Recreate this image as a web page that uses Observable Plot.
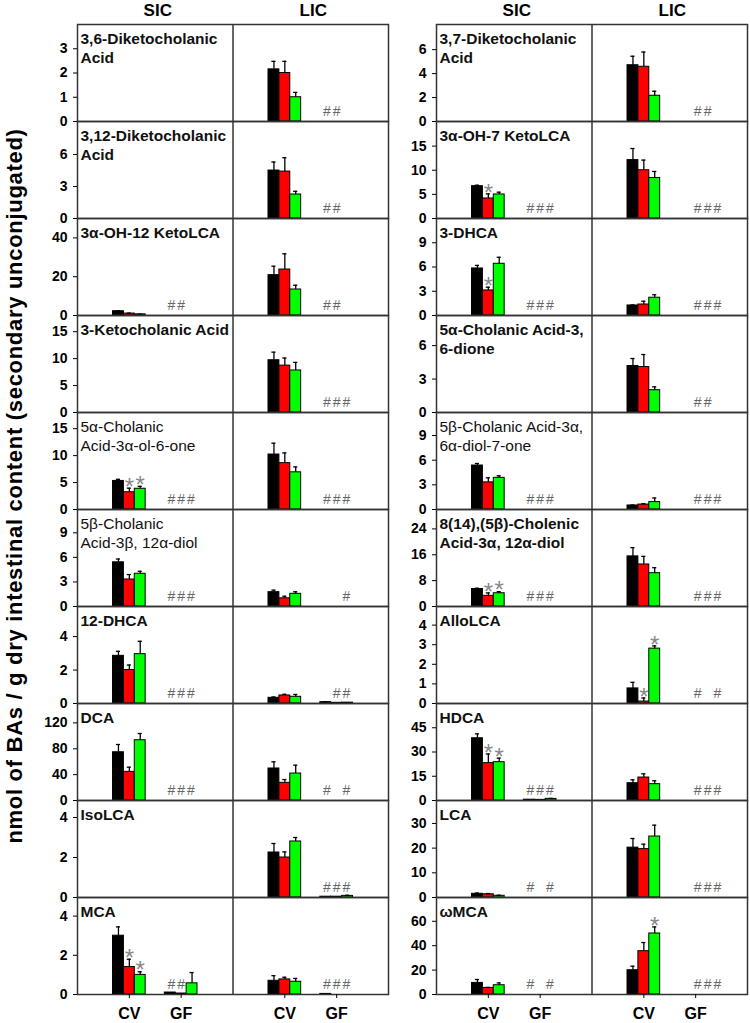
<!DOCTYPE html>
<html><head><meta charset="utf-8">
<script src="https://cdn.jsdelivr.net/npm/d3@7"></script>
<script src="https://cdn.jsdelivr.net/npm/@observablehq/plot@0.6"></script>
<style>
html,body{margin:0;padding:0;background:#fff;}
#chart{position:relative;width:750px;height:1023px;overflow:hidden;font-family:"Liberation Sans",Arial,sans-serif;}
#chart svg{position:absolute;}
</style></head><body><div id="chart"></div>
<script>
// ---------- data ----------
const regions = ["SIC", "LIC"];
const groups = ["CV", "GF"];
const seriesNames = ["series 1", "series 2", "series 3"];
const yTitle = "nmol of BAs / g dry intestinal content (secondary unconjugated)";

const compounds = [
  "3,6-Diketocholanic\nAcid", "3,12-Diketocholanic\nAcid", "3α-OH-12 KetoLCA", "3-Ketocholanic Acid",
  "5α-Cholanic\nAcid-3α-ol-6-one", "5β-Cholanic\nAcid-3β, 12α-diol", "12-DHCA", "DCA", "IsoLCA", "MCA",
  "3,7-Diketocholanic\nAcid", "3α-OH-7 KetoLCA", "3-DHCA", "5α-Cholanic Acid-3,\n6-dione",
  "5β-Cholanic Acid-3α,\n6α-diol-7-one", "8(14),(5β)-Cholenic\nAcid-3α, 12α-diol", "AlloLCA", "HDCA", "LCA", "ωMCA"
];
const yMax = [4, 9.1, 50, 18, 18, 11.85, 5.8, 150, 4.85, 4.95, 8.1, 20.1, 12, 8.7, 11.8, 30, 4.95, 60, 39.3, 79.5];
const yTicks = [
  [0,1,2,3], [0,3,6], [0,20,40], [0,5,10,15], [0,5,10,15], [0,3,6,9], [0,2,4], [0,40,80,120], [0,2,4], [0,2,4],
  [0,2,4,6], [0,5,10,15], [0,3,6,9], [0,3,6], [0,3,6,9], [0,8,16,24], [0,1,2,3,4], [0,15,30,45], [0,10,20,30], [0,20,40,60]
];
// values: [CV s1, CV s2, CV s3, GF s1, GF s2, GF s3]
const sicMean = [
  null, null, [2.2,1.0,0.6,0,0,0], null, [5.3,3.2,3.85,0,0,0], [5.4,3.3,4.0,0,0,0], [2.85,2.0,2.95,0,0,0],
  [74.6,44.3,93.2,0,0,0], null, [3.0,1.4,1.0,0.1,0.05,0.57],
  null, [6.7,4.15,4.98,0,0,0], [5.82,3.1,6.4,0,0,0], null, [5.35,3.3,3.85,0,0,0], [5.4,3.3,4.1,0,0,0], null,
  [38.5,23.1,23.7,0.5,0.4,1.0], [1.5,1.3,0.7,0,0,0], [9.5,5.4,7.6,0,0,0]
];
const sicErr = [
  null, null, [0.2,0.2,0.1,0,0,0], null, [0.3,0.76,0.45,0,0,0], [0.4,0.6,0.3,0,0,0], [0.27,0.3,0.77,0,0,0],
  [12,7.2,10.4,0,0,0], null, [0.45,0.4,0.16,0,0,0.55],
  null, [0.2,0.95,0.47,0,0,0], [0.38,0.4,0.8,0,0,0], null, [0.25,0.55,0.25,0,0,0], [0.25,0.9,0.5,0,0,0], null,
  [2.7,5.7,2.5,0,0,0.3], [0.3,0.3,0.2,0,0,0], [2.8,0.4,1.9,0,0,0]
];
const licMean = [
  [2.15,2.0,1.0,0,0,0], [4.5,4.4,2.25,0,0,0], [20.8,23.7,13.4,0,0,0], [9.7,8.7,7.8,0,0,0], [10.2,8.6,6.9,0,0,0],
  [1.75,1.0,1.55,0,0,0], [0.34,0.48,0.4,0.08,0.04,0.05], [49.5,27.3,41.7,0,0,0], [2.25,2.0,2.8,0.04,0.04,0.08],
  [0.7,0.77,0.65,0.03,0,0],
  [4.7,4.57,2.15,0,0,0], [12.1,10.0,8.4,0,0,0], [1.24,1.36,2.2,0,0,0], [4.17,4.08,2.0,0,0,0], [0.49,0.6,0.9,0,0,0],
  [15.5,13.0,10.3,0,0,0], [0.77,0.1,2.8,0,0,0], [10.7,14.2,10.1,0,0,0], [20.2,19.6,24.7,0,0,0], [19.9,35.5,50,0,0,0]
];
const licErr = [
  [0.33,0.48,0.2,0,0,0], [0.8,1.3,0.3,0,0,0], [4.6,8.1,2.2,0,0,0], [1.5,1.4,1.5,0,0,0], [2.1,1.9,1.0,0,0,0],
  [0.25,0.25,0.25,0,0,0], [0.05,0.07,0.14,0.03,0,0], [10.3,5.1,12.9,0,0,0], [0.45,0.28,0.2,0,0,0.03],
  [0.26,0.11,0.17,0,0,0],
  [0.75,1.23,0.38,0,0,0], [2.4,2.1,1.35,0,0,0], [0.06,0.41,0.37,0,0,0], [0.67,1.12,0.3,0,0,0], [0.05,0.1,0.5,0,0,0],
  [2.7,2.5,1.7,0,0,0], [0.31,0.18,0.14,0,0,0], [2.1,2.3,2.1,0,0,0], [3.7,2.0,4.6,0,0,0], [3.3,7.1,5.4,0,0,0]
];
// significance vs series 1 (*) per bar
const sicStar = ["","","","","011000","","","","","011000","","010000","010000","","","011000","","011000","",""];
const licStar = ["","","","","","","","","","","","","","","","","011000","","","001000"];
// GF vs CV (#) per GF bar
const sicHash = ["","","110","","111","111","111","111","","110","","111","111","","111","111","","111","101","101"];
const licHash = ["110","110","110","111","111","001","011","101","111","111","110","111","111","110","111","111","101","111","111","111"];

// ---------- layout / style ----------
const FONT = '"Liberation Sans", Arial, sans-serif';
const seriesColors = ["#000000", "#ff0000", "#00ff00"];
const L = {top: 24, rowH: 97, colX: [77, 436], w: 311, mL: 52, mR: 6, mT: 10, mB: 10, mBLast: 30, rows: 10};
const bw = 0.21, capHalf = 0.04, hashStep = 0.19;
const lightTitles = new Set([4, 5, 14]);
const lineColor = "#333";
const chart = document.getElementById("chart");

function rowData(i, g) {
  const bars = [], stars = [], hashes = [];
  [[sicMean, sicErr, sicStar, sicHash], [licMean, licErr, licStar, licHash]].forEach(([M, E, S, H], r) => {
    const m = M[i];
    if (m) m.forEach((v, k) => {
      const gi = Math.floor(k / 3), s = k % 3;
      const xc = r * 3 + 1 + gi + (s - 1) * bw;
      const d = {xc, v, e: E[i][k], series: seriesNames[s]};
      bars.push(d);
      if (S[i] && S[i][k] === "1") stars.push(d);
    });
    const shift = (g === 1 && r === 1) ? 0.23 : 0;
    if (H[i]) [...H[i]].forEach((f, s) => {
      if (f === "1") hashes.push({x: r * 3 + 2 + (s - 1) * hashStep + shift});
    });
  });
  return {bars, stars, hashes};
}

for (let g = 0; g < 2; g++) {
  for (let row = 0; row < L.rows; row++) {
    const i = g * L.rows + row;
    const last = row === L.rows - 1;
    const {bars, stars, hashes} = rowData(i, g);
    const mB = last ? L.mBLast : L.mB;
    const marks = [
      Plot.rect(bars.filter(d => d.v > 0), {x1: d => d.xc - bw / 2, x2: d => d.xc + bw / 2, y1: 0, y2: "v", fill: "series", stroke: "#000", strokeWidth: 1}),
      Plot.ruleX(bars.filter(d => d.e > 0), {x: "xc", y1: "v", y2: d => d.v + d.e, stroke: "#000", strokeWidth: 1.3}),
      Plot.ruleY(bars.filter(d => d.e > 0), {y: d => d.v + d.e, x1: d => d.xc - capHalf, x2: d => d.xc + capHalf, stroke: "#000", strokeWidth: 1.3}),
      Plot.text(stars, {x: "xc", y: d => d.v + d.e, text: () => "*", dy: -1, fontSize: 24, fill: "#888", fontFamily: FONT}),
      Plot.text(hashes, {x: "x", y: () => 0, text: () => "#", dy: -10, fontSize: 14, fill: "#666", fontFamily: FONT}),
      Plot.text([compounds[i]], {frameAnchor: "top-left", dx: 3, dy: 7, lineAnchor: "top", lineHeight: 1.17, textAnchor: "start",
        fontSize: 15.5, fontWeight: lightTitles.has(i) ? "normal" : "bold", fill: "#111", fontFamily: FONT}),
      Plot.ruleX([3], {stroke: lineColor, strokeWidth: 1.5}),
      Plot.frame({stroke: lineColor, strokeWidth: 1.5}),
      Plot.axisY({ticks: yTicks[i], tickFormat: d => String(d), tickSize: 4, tickPadding: 6, fontSize: 14, fontWeight: "bold", label: null, fontFamily: FONT})
    ];
    if (last) marks.push(Plot.axisX({ticks: [1, 2, 4, 5], tickFormat: d => groups[(d - 1) % 3], tickSize: 4, tickPadding: 9,
      fontSize: 16, fontWeight: "bold", label: null, fontFamily: FONT}));
    const svg = Plot.plot({
      width: L.mL + L.w + L.mR, height: L.mT + L.rowH + mB,
      marginLeft: L.mL, marginRight: L.mR, marginTop: L.mT, marginBottom: mB,
      x: last ? {domain: [0, 6]} : {domain: [0, 6], axis: null},
      y: {domain: [0, yMax[i]]},
      color: {domain: seriesNames, range: seriesColors},
      style: {background: "transparent", overflow: "visible", fontFamily: FONT, color: "#000"},
      marks
    });
    svg.style.left = (L.colX[g] - L.mL) + "px";
    svg.style.top = (L.top + row * L.rowH - L.mT) + "px";
    chart.appendChild(svg);
  }
}

// headers and shared y title
const ov = d3.select(chart).append("svg").attr("width", 750).attr("height", 1023)
  .style("left", "0px").style("top", "0px").style("pointer-events", "none")
  .attr("font-family", FONT).attr("font-weight", "bold");
for (let g = 0; g < 2; g++) regions.forEach((r, k) => {
  ov.append("text").attr("x", L.colX[g] + (k + 0.5) * L.w / 2 + 3).attr("y", 16)
    .attr("text-anchor", "middle").attr("font-size", 17).text(r);
});
ov.append("text").attr("transform", `translate(22,${(L.top + 462)}) rotate(-90)`)
  .attr("text-anchor", "middle").attr("font-size", 22).attr("letter-spacing", 0.7).text(yTitle);
</script></body></html>
